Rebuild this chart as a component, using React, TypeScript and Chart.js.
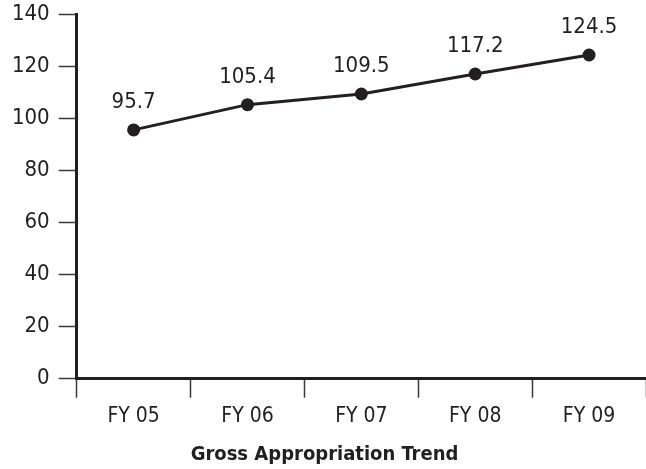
import React, { useEffect, useRef } from "react";
import { Chart, registerables } from "chart.js";

Chart.register(...registerables);

const categories = ["FY 05", "FY 06", "FY 07", "FY 08", "FY 09"];
const values = [95.7, 105.4, 109.5, 117.2, 124.5];
const yTicks = [0, 20, 40, 60, 80, 100, 120, 140];
const titleText = "Gross Appropriation Trend";

const INK = "#231f20";
const FONT = "'DejaVu Sans Condensed', 'Liberation Sans Narrow', sans-serif";

const TARGET = { left: 76.7, top: 14.7, right: 647, bottom: 378.7 };

const valueLabels = {
  id: "valueLabels",
  afterDatasetsDraw(chart: any) {
    const ctx = chart.ctx;
    const meta = chart.getDatasetMeta(0);
    ctx.save();
    ctx.fillStyle = INK;
    ctx.font = `22px ${FONT}`;
    ctx.textAlign = "center";
    ctx.textBaseline = "alphabetic";
    meta.data.forEach((pt: any, i: number) => {
      ctx.fillText(String(values[i]), pt.x, pt.y - 22);
    });
    ctx.restore();
  },
};

export default function App() {
  const ref = useRef<HTMLCanvasElement>(null);
  useEffect(() => {
    if (!ref.current) return;
    const pad = { top: 14.7, right: 0, bottom: 0, left: 0 };
    const chart: any = new Chart(ref.current, {
      type: "line",
      data: {
        labels: categories,
        datasets: [
          {
            data: values,
            borderColor: INK,
            backgroundColor: INK,
            borderWidth: 3,
            pointRadius: 6.5,
            pointBackgroundColor: INK,
            pointBorderWidth: 0,
            tension: 0,
            clip: false,
          },
        ],
      },
      options: {
        responsive: false,
        animation: false,
        layout: { padding: pad, autoPadding: false },
        plugins: {
          legend: { display: false },
          tooltip: { enabled: false },
          title: {
            display: true,
            text: titleText,
            position: "bottom",
            color: INK,
            font: { family: FONT, size: 20, weight: "bold", lineHeight: 1.2 },
            padding: { top: 8, bottom: 0 },
          },
        },
        scales: {
          x: {
            type: "category",
            offset: true,
            grid: {
              offset: true,
              drawOnChartArea: false,
              drawTicks: true,
              tickLength: 19,
              tickWidth: 1.5,
              tickColor: "#3a3a3a",
            },
            border: { display: true, color: INK, width: 3 },
            ticks: {
              color: INK,
              padding: 6,
              font: { family: FONT, size: 21 },
              maxRotation: 0,
              autoSkip: false,
            },
            afterFit: (scale: any) => {
              scale.paddingLeft = 0;
              scale.paddingRight = 0;
            },
          },
          y: {
            min: 0,
            max: 140,
            afterBuildTicks: (scale: any) => {
              scale.ticks = yTicks.map((v) => ({ value: v }));
            },
            grid: {
              drawOnChartArea: false,
              drawTicks: true,
              tickLength: 18,
              tickWidth: 1.5,
              tickColor: "#3a3a3a",
            },
            border: { display: true, color: INK, width: 3 },
            ticks: {
              color: INK,
              padding: 9,
              font: { family: FONT, size: 22 },
            },
            afterFit: (scale: any) => {
              scale.width = 76.7;
              scale.paddingTop = 0;
              scale.paddingBottom = 0;
            },
          },
        },
      },
      plugins: [valueLabels],
    });
    for (let k = 0; k < 3; k++) {
      const ca = chart.chartArea;
      if (!ca) break;
      pad.left += TARGET.left - ca.left;
      pad.top += TARGET.top - ca.top;
      pad.right += ca.right - TARGET.right;
      pad.bottom += ca.bottom - TARGET.bottom;
      chart.update();
    }
    return () => chart.destroy();
  }, []);
  return (
    <div style={{ position: "fixed", left: 0, top: 0, width: 646, height: 469, background: "#fff" }}>
      <canvas ref={ref} width={646} height={469} style={{ display: "block" }} />
    </div>
  );
}
